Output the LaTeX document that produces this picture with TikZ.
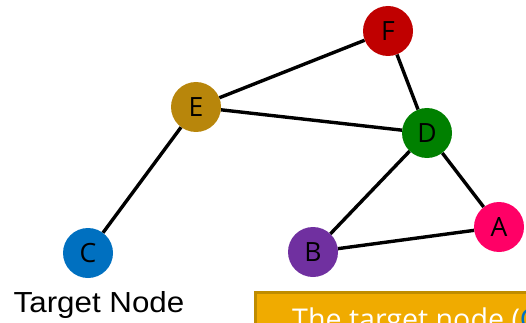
\documentclass[tikz,border=0pt]{standalone}
\usepackage{fontspec}
\setmainfont{Liberation Sans}[FakeStretch=1.08]
\newfontfamily\lettersfont{Open Sans}
\definecolor{fcol}{RGB}{192,0,0}
\definecolor{ecol}{RGB}{184,134,11}
\definecolor{dcol}{RGB}{0,128,0}
\definecolor{ccol}{RGB}{0,112,192}
\definecolor{bcol}{RGB}{112,48,160}
\definecolor{acol}{RGB}{255,0,102}
\definecolor{boxfill}{RGB}{240,171,0}
\definecolor{boxedge}{RGB}{191,140,0}
\begin{document}
\begin{tikzpicture}[x=1pt,y=-1pt,
  vertex/.style={circle,minimum size=50pt,inner sep=0pt,fill=#1,
    font=\lettersfont\fontsize{26.5}{26.5}\selectfont,text=black},
  link/.style={line width=3.4pt,black}]
\useasboundingbox (0,0) rectangle (526,323);
\clip (0,0) rectangle (526,323);
% vertices
\node[vertex=fcol] (F) at (388,31) {F};
\node[vertex=ecol] (E) at (196,107) {E};
\node[vertex=dcol] (D) at (427,133) {D};
\node[vertex=ccol] (C) at (88,253) {C};
\node[vertex=bcol] (B) at (313,252) {B};
\node[vertex=acol] (A) at (499,227) {A};
% edges
\draw[link] (E) -- (F);
\draw[link] (E) -- (D);
\draw[link] (F) -- (D);
\draw[link] (E) -- (C);
\draw[link] (D) -- (B);
\draw[link] (D) -- (A);
\draw[link] (B) -- (A);
% caption under C
\node[anchor=base,inner sep=0pt,font=\fontsize{29}{29}\selectfont] (tlabel) at (99,312) {Target Node};
% callout box
\draw[line width=3pt,draw=boxedge,fill=boxfill] (255.5,292.5) rectangle (600,400);
\node[anchor=base west,inner sep=0pt,text=white,font=\lettersfont\fontsize{28.6}{28.6}\selectfont] (note) at (292,329) {The target node (\textcolor{ccol}{C}};
\end{tikzpicture}
\end{document}
